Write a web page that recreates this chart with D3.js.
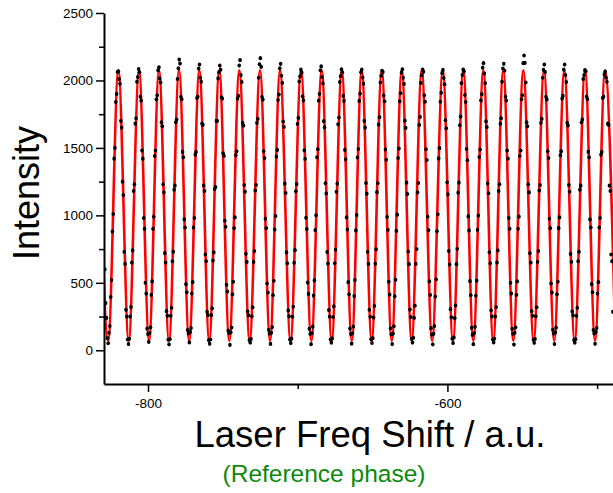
<!DOCTYPE html>
<html>
<head>
<meta charset="utf-8">
<script src="https://cdn.jsdelivr.net/npm/d3@7"></script>
<style>
  html, body { margin: 0; padding: 0; background: #fff; }
  svg { display: block; }
</style>
</head>
<body>
<svg id="chart" width="613" height="493"></svg>
<script>
// Evenly stepped laser frequency scan (a.u.)
const scanStart = -828.85;
const scanStep = 0.5646;

// Measured intensity at each scan step (one fringe per row after the lead-in)
const intensity = [
  600, 350, 240, 90,
  52, 130, 180, 395, 520, 880, 1010, 1420, 1500, 1840, 1900, 2062, 2068, 2010, 1975, 1700, 1650, 1250, 1150, 730, 640, 300, 250, 80,
  46, 85, 250, 320, 650, 740, 1180, 1230, 1680, 1720, 1990, 2025, 2085, 2060, 1880, 1850, 1480, 1420, 980, 900, 500, 420, 160, 120,
  62, 128, 170, 410, 510, 900, 990, 1440, 1480, 1860, 1890, 2075, 2098, 2015, 1985, 1690, 1660, 1230, 1170, 720, 650, 290, 255, 78,
  44, 82, 255, 315, 660, 730, 1190, 1220, 1690, 1710, 2010, 2090, 2155, 2125, 1880, 1860, 1470, 1430, 970, 910, 490, 430, 150, 125,
  58, 135, 165, 420, 505, 910, 980, 1450, 1470, 1870, 1880, 2088, 2118, 2020, 1990, 1680, 1670, 1220, 1180, 710, 660, 285, 260, 75,
  48, 80, 260, 310, 665, 725, 1195, 1210, 1700, 1700, 2015, 2060, 2110, 2080, 1875, 1865, 1460, 1440, 960, 915, 485, 435, 145, 128,
  40, 132, 168, 415, 508, 905, 985, 1445, 1475, 1865, 1885, 2110, 2150, 2040, 1988, 1685, 1665, 1225, 1175, 715, 655, 288, 258, 76,
  57, 84, 252, 318, 655, 735, 1185, 1225, 1685, 1715, 2020, 2120, 2165, 2100, 1878, 1858, 1475, 1425, 975, 905, 495, 428, 152, 124,
  47, 130, 172, 408, 515, 895, 995, 1435, 1485, 1855, 1895, 2090, 2123, 2035, 1982, 1695, 1655, 1235, 1165, 725, 645, 295, 252, 79,
  53, 86, 248, 322, 648, 742, 1178, 1232, 1678, 1722, 1992, 2030, 2080, 2058, 1882, 1852, 1482, 1418, 982, 898, 502, 418, 158, 121,
  45, 127, 175, 405, 518, 890, 1000, 1430, 1490, 1850, 1900, 2075, 2104, 2025, 1978, 1698, 1652, 1238, 1162, 728, 642, 298, 250, 80,
  56, 88, 245, 325, 645, 745, 1175, 1235, 1675, 1725, 1988, 2032, 2082, 2060, 1885, 1848, 1485, 1415, 985, 895, 505, 415, 160, 120,
  49, 126, 176, 402, 520, 888, 1002, 1428, 1492, 1848, 1902, 2060, 2080, 2022, 1976, 1700, 1650, 1240, 1160, 730, 640, 300, 248, 82,
  54, 90, 242, 328, 642, 748, 1172, 1238, 1672, 1728, 1985, 2035, 2072, 2062, 1888, 1845, 1488, 1412, 988, 892, 508, 412, 162, 118,
  46, 124, 178, 400, 522, 885, 1005, 1425, 1495, 1845, 1905, 2058, 2082, 2020, 1974, 1702, 1648, 1242, 1158, 732, 638, 302, 246, 84,
  57, 92, 240, 330, 640, 750, 1170, 1240, 1670, 1730, 1982, 2038, 2080, 2064, 1890, 1842, 1490, 1410, 990, 890, 510, 410, 164, 116,
  44, 122, 180, 398, 525, 882, 1008, 1422, 1498, 1842, 1908, 2055, 2078, 2018, 1972, 1705, 1645, 1245, 1155, 735, 635, 305, 244, 86,
  53, 94, 238, 332, 638, 752, 1168, 1242, 1668, 1732, 1980, 2040, 2080, 2066, 1892, 1840, 1492, 1408, 992, 888, 512, 408, 166, 114,
  45, 128, 174, 404, 516, 892, 998, 1432, 1488, 1852, 1898, 2095, 2128, 2050, 1980, 1696, 1654, 1236, 1164, 726, 644, 296, 251, 80,
  58, 86, 250, 320, 650, 740, 1180, 1230, 1680, 1720, 1990, 2088, 2123, 2072, 1880, 1850, 1480, 1420, 980, 900, 500, 420, 158, 122,
  42, 130, 170, 410, 510, 900, 990, 1440, 1480, 1860, 1890, 2128, 2185, 2130, 1985, 1690, 1660, 1230, 1170, 720, 650, 290, 255, 78,
  55, 84, 252, 318, 655, 735, 1185, 1225, 1685, 1715, 2020, 2078, 2118, 2062, 1878, 1858, 1475, 1425, 975, 905, 495, 428, 152, 124,
  46, 132, 168, 415, 508, 905, 985, 1445, 1475, 1865, 1885, 2080, 2118, 2040, 1988, 1685, 1665, 1225, 1175, 715, 655, 288, 258, 76,
  56, 82, 255, 315, 660, 730, 1190, 1220, 1690, 1710, 2010, 2040, 2076, 2068, 1880, 1860, 1470, 1430, 970, 910, 490, 430, 150, 125,
  48, 135, 165, 420, 505, 910, 980, 1450, 1470, 1870, 1880, 2045, 2065, 2020, 1990, 1680, 1670, 1220, 1180, 710, 660, 285
];

// Fitted fringe extrema (positions in a.u., levels in counts)
const fitPeakX = [
  -833.4, -819.8, -806.0, -792.65, -779.3, -765.7, -752.4, -739.0, -725.2, -711.8,
  -697.8, -684.0, -670.6, -657.25, -643.9, -630.5, -617.2, -603.1, -589.4, -576.0,
  -562.7, -549.3, -535.5, -521.9, -508.1, -494.7
];
const fitTroughX = [
  -826.6, -812.9, -799.3, -786.0, -772.5, -759.1, -745.7, -732.1, -718.5, -704.8,
  -690.9, -677.3, -663.9, -650.6, -637.2, -623.9, -610.2, -596.3, -582.7, -569.4,
  -556.0, -542.4, -528.7, -515.0, -501.4, -487.9
];
const fitMax = 2075;
const fitMin = 70;

// Axis ticks and labels
const yMajorTicks = [0, 500, 1000, 1500, 2000, 2500];
const yMinorTicks = [250, 750, 1250, 1750, 2250];
const xMajorTicks = [-800, -600];
const xMinorTicks = [-700, -500];
const xTitle = "Laser Freq Shift / a.u.";
const yTitle = "Intensity";
const subTitle = "(Reference phase)";

const FONT = "'Liberation Sans', Arial, Helvetica, sans-serif";

const svg = d3.select("#chart");

const x = d3.scaleLinear().domain([-829.4, -489.4]).range([104, 613]);
const y = d3.scaleLinear().domain([-250, 2500]).range([384, 13]);

const points = intensity.map((v, i) => ({ x: scanStart + i * scanStep, y: v }));
const fitKnots = fitPeakX.map(px => ({ x: px, y: fitMax }))
  .concat(fitTroughX.map(tx => ({ x: tx, y: fitMin })))
  .sort((a, b) => a.x - b.x);

svg.append("defs").append("clipPath").attr("id", "plot-clip")
  .append("rect").attr("x", 104).attr("y", 0).attr("width", 509).attr("height", 384);

const plot = svg.append("g").attr("clip-path", "url(#plot-clip)");

// Fitted fringe curve
plot.append("path")
  .datum(fitKnots)
  .attr("fill", "none")
  .attr("stroke", "#ff0000")
  .attr("stroke-width", 2.6)
  .attr("stroke-linejoin", "round")
  .attr("d", d3.line().x(d => x(d.x)).y(d => y(d.y)).curve(d3.curveMonotoneX));

// Measured points, over the fit
plot.append("g").selectAll("ellipse").data(points).join("ellipse")
  .attr("cx", d => x(d.x))
  .attr("cy", d => y(d.y))
  .attr("rx", 1.8)
  .attr("ry", 2.1)
  .attr("fill", "#000");

// Y axis
const yAxis = svg.append("g").attr("transform", "translate(104,0)");
yAxis.call(d3.axisLeft(y).tickValues(yMajorTicks).tickSize(8).tickSizeOuter(0).tickPadding(3)
  .tickFormat(d3.format("d")));
yAxis.append("g").call(d3.axisLeft(y).tickValues(yMinorTicks).tickSize(5).tickSizeOuter(0).tickFormat(""))
  .select(".domain").remove();

// X axis
const xAxis = svg.append("g").attr("transform", "translate(0,384)");
xAxis.call(d3.axisBottom(x).tickValues(xMajorTicks).tickSize(8).tickSizeOuter(0).tickPadding(6)
  .tickFormat(d => String(d)));
xAxis.append("g").call(d3.axisBottom(x).tickValues(xMinorTicks).tickSize(5).tickSizeOuter(0).tickFormat(""))
  .select(".domain").remove();

svg.selectAll(".domain").attr("stroke", "#000").attr("stroke-width", 2);
svg.selectAll(".tick line").attr("stroke", "#000").attr("stroke-width", 1.5);
svg.selectAll(".tick text")
  .style("font-family", FONT)
  .style("font-size", "13.5px")
  .attr("fill", "#000");

// Titles
svg.append("text")
  .attr("x", 370).attr("y", 447)
  .attr("text-anchor", "middle")
  .style("font-family", FONT).style("font-size", "36.5px")
  .attr("fill", "#000")
  .text(xTitle);

svg.append("text")
  .attr("transform", "translate(39,193) rotate(-90)")
  .attr("text-anchor", "middle")
  .style("font-family", FONT).style("font-size", "36px")
  .attr("fill", "#000")
  .text(yTitle);

svg.append("text")
  .attr("x", 324).attr("y", 482)
  .attr("text-anchor", "middle")
  .style("font-family", FONT).style("font-size", "24.5px")
  .attr("fill", "#0a8a0a")
  .text(subTitle);
</script>
</body>
</html>
